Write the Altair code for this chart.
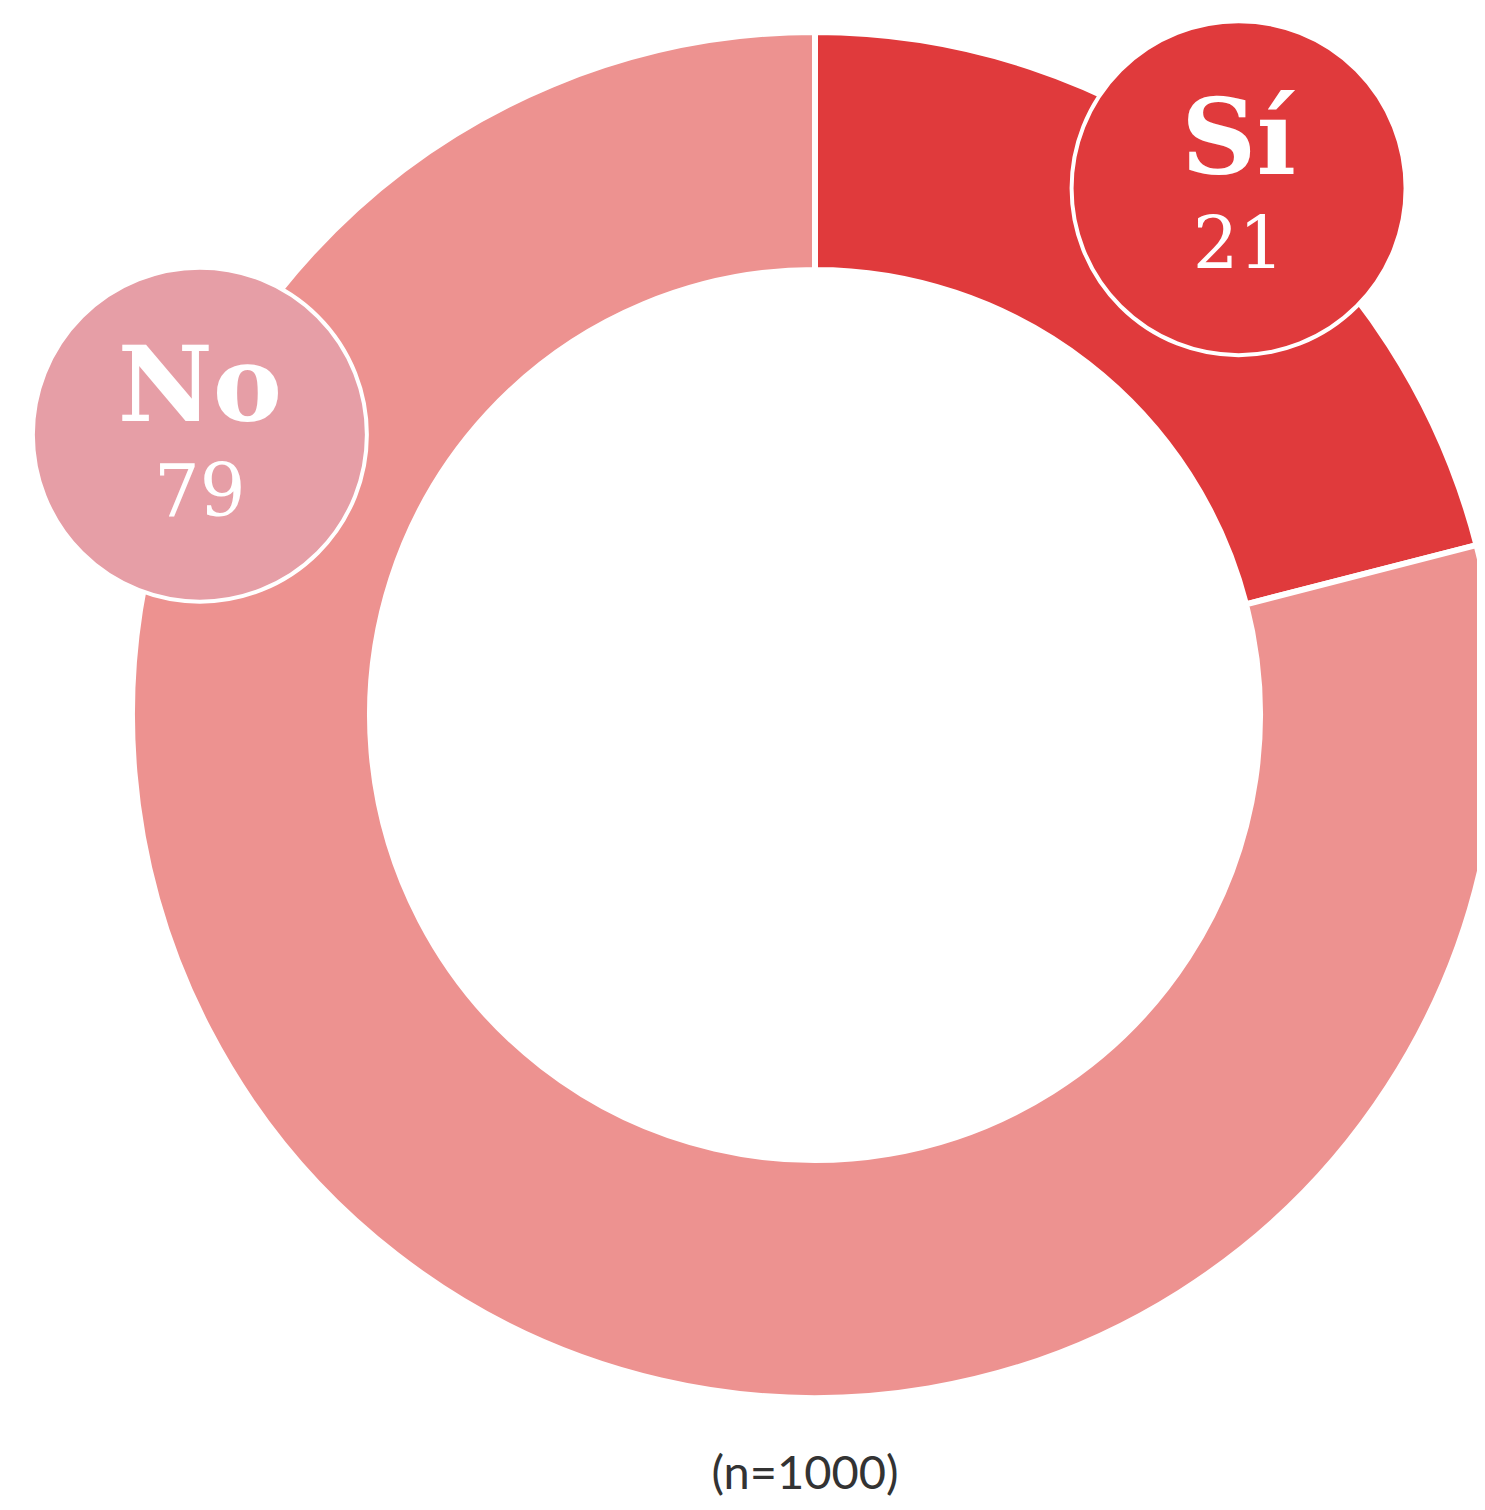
import math
import altair as alt
import pandas as pd

# ---- data ----
categories = ["Sí", "No"]
values = [21, 79]
slice_colors = ["#e03a3c", "#ed9290"]
badge_colors = ["#e03a3c", "#e69ea6"]
sample_note = "(n=1000)"

# ---- layout constants (pixels) ----
W, H = 1469, 1494
CX, CY = 807, 707
R_OUT, R_IN = 683, 445
BADGE_R = 676
BADGE_SIZE = 334 ** 2
# badge angles (degrees, clockwise from top): Sí at slice middle, No placed upper-left
total = sum(values)
si_mid = values[0] / total * 360 / 2
badge_angles = [si_mid + 1.0, 294.5]

df = pd.DataFrame({"cat": categories, "val": values, "order": [0, 1]})
badges = pd.DataFrame({
    "cat": categories,
    "val": [str(v) for v in values],
    "ang": badge_angles,
})

color_scale = alt.Scale(domain=categories, range=slice_colors)
badge_scale = alt.Scale(domain=categories, range=badge_colors)

donut = alt.Chart(df).mark_arc(
    outerRadius=R_OUT, innerRadius=R_IN, stroke="white", strokeWidth=6
).encode(
    theta=alt.Theta("val:Q", stack=True),
    color=alt.Color("cat:N", scale=color_scale, legend=None),
    order=alt.Order("order:Q"),
    x=alt.value(CX), y=alt.value(CY),
)

base_b = alt.Chart(badges).transform_calculate(
    bx=f"{CX} + {BADGE_R} * sin(datum.ang * PI / 180)",
    by=f"{CY} - {BADGE_R} * cos(datum.ang * PI / 180)",
)

circles = base_b.mark_point(
    shape="circle", filled=True, size=BADGE_SIZE, stroke="white", strokeWidth=4, opacity=1
).encode(
    x=alt.X("bx:Q", scale=None),
    y=alt.Y("by:Q", scale=None),
    fill=alt.Fill("cat:N", scale=badge_scale, legend=None),
)

names = base_b.mark_text(
    font="DejaVu Serif", fontWeight="bold", fontSize=104, color="white",
    baseline="alphabetic", align="center", dy=-14,
).encode(x=alt.X("bx:Q", scale=None), y=alt.Y("by:Q", scale=None), text="cat:N")

nums = base_b.mark_text(
    font="DejaVu Serif", fontSize=72, color="white",
    baseline="alphabetic", align="center", dy=81,
).encode(x=alt.X("bx:Q", scale=None), y=alt.Y("by:Q", scale=None), text="val:N")

note = alt.Chart(pd.DataFrame({"t": [sample_note]})).mark_text(
    font="Lato", fontSize=47, color="#333333", baseline="alphabetic", align="center"
).encode(x=alt.value(CX - 10), y=alt.value(1481), text="t:N")

chart = alt.layer(donut, circles, names, nums, note).properties(
    width=W, height=H, padding=0, autosize=alt.AutoSizeParams(type="none"),
    background="white",
).configure_view(stroke=None)

chart.save("out.html", embed_options={"renderer": "svg", "actions": False})
